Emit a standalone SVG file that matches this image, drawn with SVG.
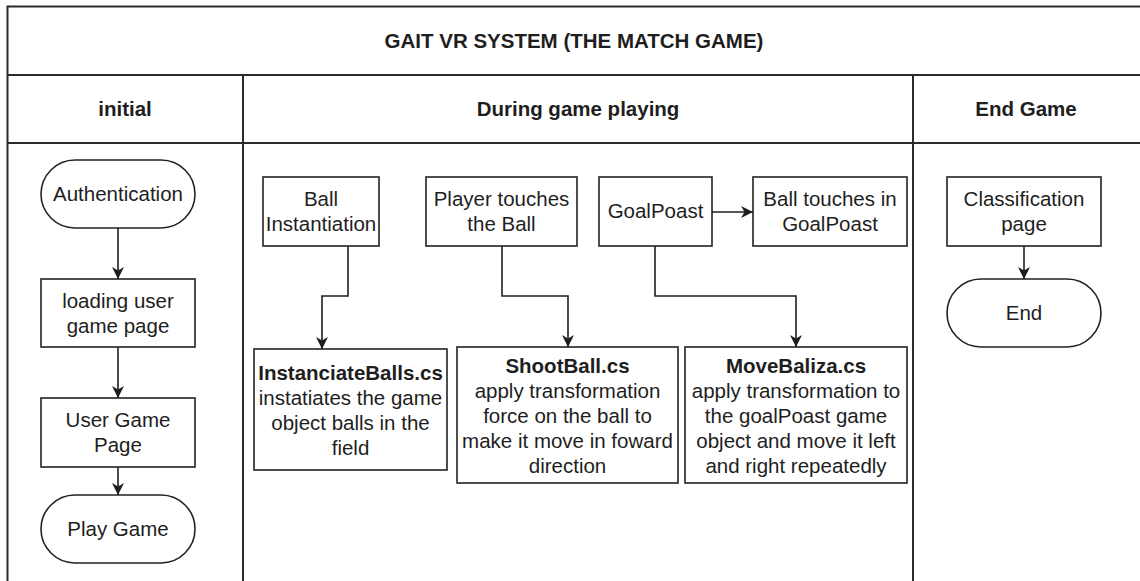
<svg xmlns="http://www.w3.org/2000/svg" width="1140" height="581" viewBox="0 0 1140 581">
  <style>
    .lane { fill: none; stroke: #2a2a2a; stroke-width: 2; }
    .box { fill: #ffffff; stroke: #222222; stroke-width: 1.6; }
    .t { font-family: "Liberation Sans", Arial, sans-serif; font-size: 20.5px; fill: #1e1e1e; text-anchor: middle; }
    .b { font-weight: bold; }
    .edge { fill: none; stroke: #1e1e1e; stroke-width: 1.6; }
  </style>
  <defs>
    <marker id="arrow" markerUnits="userSpaceOnUse" markerWidth="13" markerHeight="12" refX="12" refY="6" orient="auto">
      <path d="M0,0 L12,6 L0,12 L3.5,6 Z" fill="#1e1e1e"/>
    </marker>
  </defs>

  <rect width="1140" height="581" fill="#ffffff"/>

  <!-- pool frame, header rows and lane dividers -->
  <g id="pool">
    <path class="lane" d="M7.5,581 V6.5 H1140"/>
    <path class="lane" d="M7.5,75 H1140 M7.5,143 H1140"/>
    <path class="lane" d="M243,75 V581 M913,75 V581"/>
    <text class="t b" x="574" y="48">GAIT VR SYSTEM (THE MATCH GAME)</text>
    <text class="t b" x="125" y="116">initial</text>
    <text class="t b" x="578" y="116">During game playing</text>
    <text class="t b" x="1026" y="116">End Game</text>
  </g>

  <!-- connectors -->
  <g id="connectors">
    <path class="edge" d="M118,228 V279" marker-end="url(#arrow)"/>
    <path class="edge" d="M118,347 V398" marker-end="url(#arrow)"/>
    <path class="edge" d="M118,467 V495" marker-end="url(#arrow)"/>
    <path class="edge" d="M348,246 V296 H322 V349" marker-end="url(#arrow)"/>
    <path class="edge" d="M502,246 V296 H568 V347" marker-end="url(#arrow)"/>
    <path class="edge" d="M655,246 V296 H796 V347" marker-end="url(#arrow)"/>
    <path class="edge" d="M712,212 H753" marker-end="url(#arrow)"/>
    <path class="edge" d="M1024,246 V279" marker-end="url(#arrow)"/>
  </g>

  <!-- initial lane -->
  <g id="authentication">
    <rect class="box" x="41" y="160" width="154" height="68" rx="34" ry="34"/>
    <text class="t" x="118" y="201">Authentication</text>
  </g>
  <g id="loading-user-game-page">
    <rect class="box" x="41" y="279" width="154" height="68"/>
    <text class="t" x="118" y="308">loading user</text>
    <text class="t" x="118" y="333">game page</text>
  </g>
  <g id="user-game-page">
    <rect class="box" x="41" y="398" width="154" height="69"/>
    <text class="t" x="118" y="427">User Game</text>
    <text class="t" x="118" y="452">Page</text>
  </g>
  <g id="play-game">
    <rect class="box" x="41" y="495" width="154" height="68" rx="34" ry="34"/>
    <text class="t" x="118" y="536">Play Game</text>
  </g>

  <!-- game playing lane -->
  <g id="ball-instantiation">
    <rect class="box" x="263" y="177" width="116" height="69"/>
    <text class="t" x="321" y="206">Ball</text>
    <text class="t" x="321" y="231">Instantiation</text>
  </g>
  <g id="player-touches-ball">
    <rect class="box" x="426" y="177" width="151" height="69"/>
    <text class="t" x="501.5" y="206">Player touches</text>
    <text class="t" x="501.5" y="231">the Ball</text>
  </g>
  <g id="goalpoast">
    <rect class="box" x="599" y="177" width="113" height="69"/>
    <text class="t" x="655.5" y="218">GoalPoast</text>
  </g>
  <g id="ball-touches-goalpoast">
    <rect class="box" x="753" y="177" width="154" height="69"/>
    <text class="t" x="830" y="206">Ball touches in</text>
    <text class="t" x="830" y="231">GoalPoast</text>
  </g>
  <g id="instanciate-balls">
    <rect class="box" x="254" y="349" width="193" height="121"/>
    <text class="t b" x="350.5" y="380">InstanciateBalls.cs</text>
    <text class="t" x="350.5" y="405">instatiates the game</text>
    <text class="t" x="350.5" y="430">object balls in the</text>
    <text class="t" x="350.5" y="455">field</text>
  </g>
  <g id="shoot-ball">
    <rect class="box" x="457" y="347" width="221" height="136"/>
    <text class="t b" x="567.5" y="373">ShootBall.cs</text>
    <text class="t" x="567.5" y="398">apply transformation</text>
    <text class="t" x="567.5" y="423">force on the ball to</text>
    <text class="t" x="567.5" y="448">make it move in foward</text>
    <text class="t" x="567.5" y="473">direction</text>
  </g>
  <g id="move-baliza">
    <rect class="box" x="685" y="347" width="222" height="136"/>
    <text class="t b" x="796" y="373">MoveBaliza.cs</text>
    <text class="t" x="796" y="398">apply transformation to</text>
    <text class="t" x="796" y="423">the goalPoast game</text>
    <text class="t" x="796" y="448">object and move it left</text>
    <text class="t" x="796" y="473">and right repeatedly</text>
  </g>

  <!-- end game lane -->
  <g id="classification-page">
    <rect class="box" x="947" y="177" width="154" height="69"/>
    <text class="t" x="1024" y="206">Classification</text>
    <text class="t" x="1024" y="231">page</text>
  </g>
  <g id="end">
    <rect class="box" x="947" y="279" width="154" height="68" rx="34" ry="34"/>
    <text class="t" x="1024" y="320">End</text>
  </g>
</svg>
